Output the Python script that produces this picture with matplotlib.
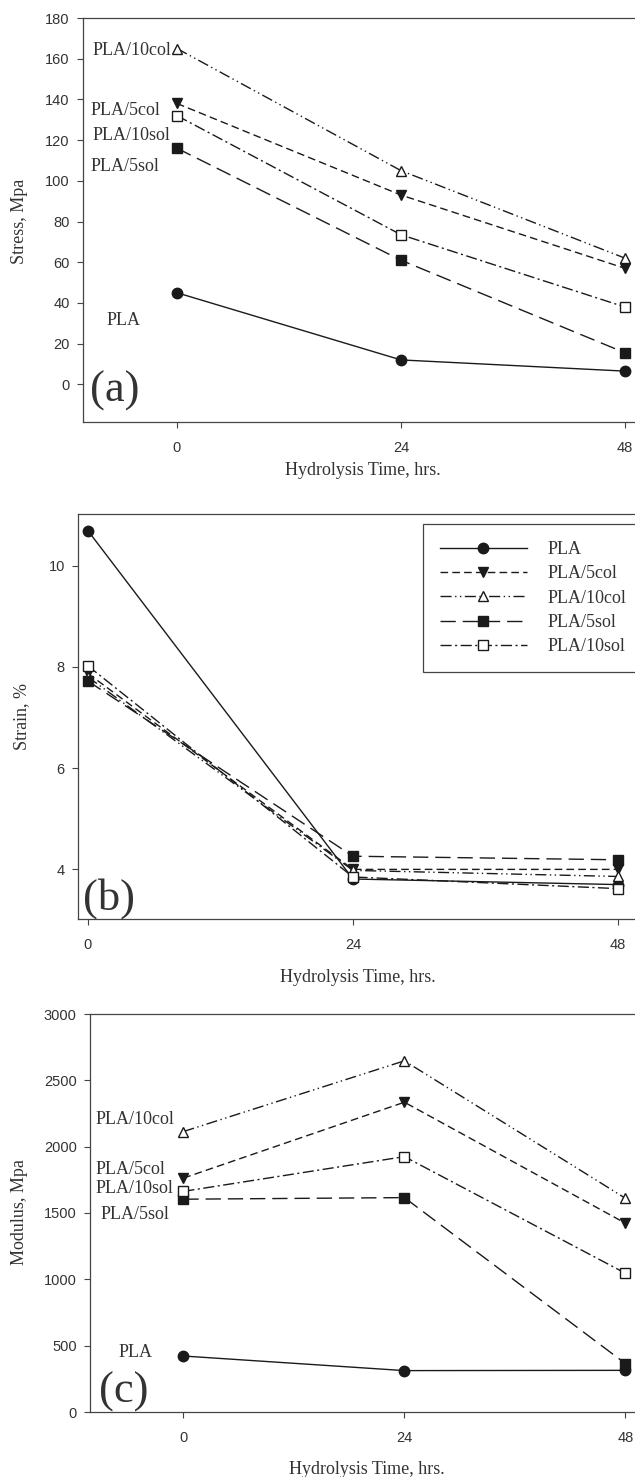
import matplotlib
matplotlib.use("Agg")
import matplotlib.pyplot as plt

# ---------------- data ----------------
hours = [0, 24, 48]
series_names = ["PLA", "PLA/5col", "PLA/10col", "PLA/5sol", "PLA/10sol"]

stress_pla = [45, 12, 6.5]
stress_5col = [138, 93, 57]
stress_10col = [165, 105, 62]
stress_5sol = [116, 61, 15.5]
stress_10sol = [132, 73.5, 38]

strain_pla = [10.69, 3.81, 3.70]
strain_5col = [7.87, 4.00, 4.00]
strain_10col = [7.80, 3.98, 3.86]
strain_5sol = [7.72, 4.26, 4.19]
strain_10sol = [8.02, 3.85, 3.62]

modulus_pla = [422, 312, 314]
modulus_5col = [1763, 2335, 1423]
modulus_10col = [2114, 2647, 1611]
modulus_5sol = [1604, 1616, 365]
modulus_10sol = [1663, 1925, 1046]

stress_ticks = [0, 20, 40, 60, 80, 100, 120, 140, 160, 180]
strain_ticks = [4, 6, 8, 10]
modulus_ticks = [0, 500, 1000, 1500, 2000, 2500, 3000]
hour_ticks = [0, 24, 48]

# ---------------- styles ----------------
W, H = 635, 1477
SERIF = ["Liberation Serif", "DejaVu Serif"]
SANS = ["Liberation Sans", "DejaVu Sans"]
LC = "#1a1a1a"

styles = {
    "PLA": dict(ls="-", marker="o", mfc=LC, ms=7.5),
    "PLA/5col": dict(ls=(0, (5.5, 3)), marker="v", mfc=LC, ms=7),
    "PLA/10col": dict(ls=(0, (8, 2.5, 1, 2.5, 1, 2.5)), marker="^", mfc="white", ms=7),
    "PLA/5sol": dict(ls=(0, (11, 5)), marker="s", mfc=LC, ms=6.5),
    "PLA/10sol": dict(ls=(0, (8, 2.5, 1.5, 2.5)), marker="s", mfc="white", ms=6.5),
}

fig = plt.figure(figsize=(W / 100, H / 100), dpi=100)
fig.patch.set_facecolor("white")


def px_axes(left, top, right, bottom):
    return fig.add_axes([left / W, 1 - bottom / H, (right - left) / W, (bottom - top) / H])


def fpos(x, y):
    return (x / W, 1 - y / H)


def style_axes(ax, yticks, ylabel, xlabel_px, ylabel_px):
    for s in ["left", "bottom", "top"]:
        ax.spines[s].set_color("#444444")
        ax.spines[s].set_linewidth(0.9)
    ax.spines["right"].set_visible(False)
    ax.set_xticks(hour_ticks)
    ax.set_yticks(yticks)
    ax.tick_params(axis="both", direction="out", length=4.5, width=0.8,
                   color="#444444", labelcolor="#333333", labelsize=10.5)
    ax.tick_params(axis="x", pad=9.5)
    ax.tick_params(axis="y", pad=5)
    for lab in ax.get_xticklabels() + ax.get_yticklabels():
        lab.set_fontfamily(SANS)
    ax.set_xlabel("Hydrolysis Time, hrs.", family=SERIF, fontsize=13, color="#333333")
    ax.set_ylabel(ylabel, family=SERIF, fontsize=13, color="#333333")
    ax.xaxis.set_label_coords(*fpos(*xlabel_px), transform=fig.transFigure)
    ax.xaxis.label.set_va("center")
    ax.yaxis.set_label_coords(*fpos(*ylabel_px), transform=fig.transFigure)
    ax.yaxis.label.set_va("center")


def draw_series(ax, data):
    lines = []
    for name, vals in zip(series_names, data):
        st = styles[name]
        ln, = ax.plot(hours, vals, color=LC, lw=1.0, ls=st["ls"], marker=st["marker"],
                      ms=st["ms"], mfc=st["mfc"], mec=LC, mew=1.0, label=name,
                      clip_on=False)
        lines.append(ln)
    return lines


# ---------------- panel (a) ----------------
ax1 = px_axes(83, 18, 635, 422)
draw_series(ax1, [stress_pla, stress_5col, stress_10col, stress_5sol, stress_10sol])
ax1.set_xlim(-10.07, 49.07)
ax1.set_ylim(-18.5, 180)
style_axes(ax1, stress_ticks, "Stress, Mpa", (363, 470), (20, 221))
lab_a = [("PLA/10col", -9.1, 164), ("PLA/5col", -9.3, 134.5), ("PLA/10sol", -9.1, 122.5),
         ("PLA/5sol", -9.3, 107), ("PLA", -7.5, 31.5)]
for t, x, y in lab_a:
    ax1.text(x, y, t, family=SERIF, fontsize=13, color="#333333", ha="left", va="center")
ax1.text(-9.3, -3, "(a)", family=SERIF, fontsize=32, color="#333333", ha="left", va="center")

# ---------------- panel (b) ----------------
ax2 = px_axes(78, 514, 635, 919)
lines_b = draw_series(ax2, [strain_pla, strain_5col, strain_10col, strain_5sol, strain_10sol])
ax2.set_xlim(-0.9, 49.54)
ax2.set_ylim(3.02, 11.02)
style_axes(ax2, strain_ticks, "Strain, %", (358, 978), (22, 717))
ax2.text(-0.45, 3.43, "(b)", family=SERIF, fontsize=32, color="#333333", ha="left", va="center")
leg = ax2.legend(handles=lines_b, loc="upper left",
                 bbox_to_anchor=fpos(423, 524), bbox_transform=fig.transFigure,
                 borderaxespad=0, prop=dict(family=SERIF, size=13),
                 handlelength=4.8, handletextpad=1.15, borderpad=0.95,
                 labelspacing=0.4, fancybox=False, framealpha=1,
                 edgecolor="#444444")
leg.get_frame().set_linewidth(0.9)
for t in leg.get_texts():
    t.set_color("#333333")

# ---------------- panel (c) ----------------
ax3 = px_axes(90, 1014, 635, 1412)
draw_series(ax3, [modulus_pla, modulus_5col, modulus_10col, modulus_5sol, modulus_10sol])
ax3.set_xlim(-10.14, 49.04)
ax3.set_ylim(0, 3000)
style_axes(ax3, modulus_ticks, "Modulus, Mpa", (367, 1470), (20, 1212))
lab_c = [("PLA/10col", -9.5, 2203), ("PLA/5col", -9.5, 1825), ("PLA/10sol", -9.5, 1682),
         ("PLA/5sol", -9.0, 1486), ("PLA", -7.0, 445)]
for t, x, y in lab_c:
    ax3.text(x, y, t, family=SERIF, fontsize=13, color="#333333", ha="left", va="center")
ax3.text(-9.2, 153, "(c)", family=SERIF, fontsize=32, color="#333333", ha="left", va="center")

fig.savefig("out.png", dpi=100, facecolor="white")
